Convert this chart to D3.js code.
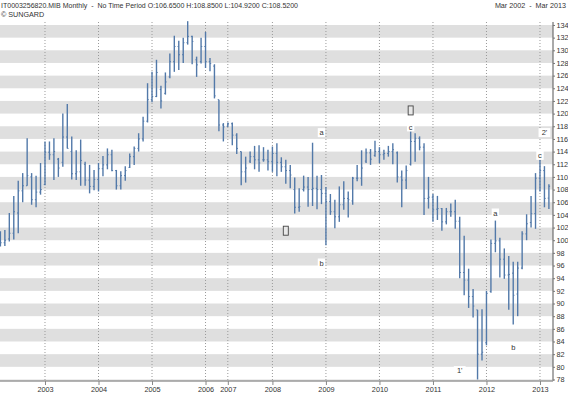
<!DOCTYPE html>
<html>
<head>
<meta charset="utf-8">
<script src="https://cdn.jsdelivr.net/npm/d3@7"></script>
<style>
body { margin: 0; background: #fff; }
svg { display: block; font-family: "Liberation Sans", Arial, sans-serif; }
</style>
</head>
<body>
<script>
// monthly bars, "no time period" so some 2006/2007 months are absent
const dates = [
  "2002-03","2002-04","2002-05","2002-06","2002-07","2002-08","2002-09","2002-10","2002-11","2002-12",
  "2003-01","2003-02","2003-03","2003-04","2003-05","2003-06","2003-07","2003-08","2003-09","2003-10","2003-11","2003-12",
  "2004-01","2004-02","2004-03","2004-04","2004-05","2004-06","2004-07","2004-08","2004-09","2004-10","2004-11","2004-12",
  "2005-01","2005-02","2005-03","2005-04","2005-05","2005-06","2005-07","2005-08","2005-09","2005-10","2005-11","2005-12",
  "2006-01","2006-02","2006-03","2006-04","2006-05",
  "2007-03","2007-04","2007-05","2007-06","2007-07","2007-08","2007-09","2007-10","2007-11","2007-12",
  "2008-01","2008-02","2008-03","2008-04","2008-05","2008-06","2008-07","2008-08","2008-09","2008-10","2008-11","2008-12",
  "2009-01","2009-02","2009-03","2009-04","2009-05","2009-06","2009-07","2009-08","2009-09","2009-10","2009-11","2009-12",
  "2010-01","2010-02","2010-03","2010-04","2010-05","2010-06","2010-07","2010-08","2010-09","2010-10","2010-11","2010-12",
  "2011-01","2011-02","2011-03","2011-04","2011-05","2011-06","2011-07","2011-08","2011-09","2011-10","2011-11","2011-12",
  "2012-01","2012-02","2012-03","2012-04","2012-05","2012-06","2012-07","2012-08","2012-09","2012-10","2012-11","2012-12",
  "2013-01","2013-02","2013-03"
];

const open = [
  100.8,99.6,100.2,101.1,104.3,107.8,108.6,110.0,106.4,107.6,
  108.8,113.9,113.5,112.8,112.3,116.3,114.0,110.5,110.8,112.0,109.5,108.5,
  109.6,111.3,111.9,113.5,111.0,108.6,110.2,111.5,113.2,114.5,116.0,118.8,
  122.2,122.7,123.8,123.2,125.8,128.2,130.6,129.3,131.2,132.2,128.5,128.2,
  130.6,128.2,127.5,122.2,118.2,
  118.0,118.4,116.6,114.0,110.8,112.5,113.2,112.7,112.7,112.7,
  112.4,113.7,112.3,111.6,111.0,108.0,105.2,108.0,108.4,108.0,108.2,108.0,
  107.4,106.1,104.5,103.7,105.6,106.6,106.2,109.8,109.8,112.5,113.8,113.4,
  114.0,113.5,113.7,114.0,113.8,110.0,109.5,112.0,115.6,116.1,114.7,106.6,
  106.8,104.9,105.0,102.9,104.5,104.5,103.0,94.9,93.7,91.1,89.0,82.0,
  83.8,91.9,99.5,99.9,97.0,94.5,94.8,91.5,95.6,101.0,102.8,104.2,
  109.8,111.0,106.65
];
const high = [
  101.4,101.6,104.3,107.0,109.4,110.6,116.1,110.6,110.2,112.2,
  115.6,115.6,116.1,113.0,120.0,121.5,116.4,114.2,115.9,112.4,111.9,111.1,
  112.2,113.3,114.5,114.3,111.1,110.9,111.7,113.7,114.8,116.9,119.5,124.8,
  126.6,128.5,124.4,126.5,129.5,132.3,131.5,132.0,134.6,132.3,129.0,132.0,
  132.9,128.8,127.8,122.2,118.5,
  118.6,118.6,116.9,114.0,113.2,114.0,114.9,115.0,114.7,114.3,
  114.8,115.3,113.1,112.7,111.9,109.9,108.2,110.2,110.0,115.4,110.2,110.3,
  108.4,107.3,106.4,108.5,109.3,107.7,110.0,111.9,114.2,114.5,114.4,115.7,
  114.7,114.3,114.9,115.3,114.0,111.0,111.8,117.2,116.9,116.4,115.3,110.0,
  107.3,107.0,105.1,105.1,105.8,106.4,103.7,100.7,95.5,92.3,89.0,89.1,
  92.0,100.1,103.1,100.4,98.7,97.5,96.6,96.6,101.4,104.1,107.0,110.6,
  112.7,111.7,108.85
];
const low = [
  99.0,99.1,99.8,100.1,101.1,106.0,108.6,105.6,105.2,107.2,
  108.7,112.7,109.5,110.0,111.6,114.5,109.6,109.5,108.6,108.6,107.4,107.9,
  107.7,110.1,111.2,110.9,108.0,108.0,109.4,111.4,111.9,114.0,115.6,118.6,
  121.8,122.6,120.8,123.0,125.6,126.6,126.9,128.0,130.9,127.8,125.8,127.9,
  127.2,126.7,122.4,117.2,115.6,
  117.9,115.0,113.6,108.7,109.1,112.2,111.2,110.8,112.4,111.0,
  110.8,110.1,110.8,108.9,108.2,104.2,104.5,107.7,105.3,105.4,104.9,105.7,
  99.2,104.0,101.9,102.9,104.8,103.6,105.6,109.3,108.6,112.2,111.9,113.2,
  112.2,112.7,113.2,112.0,109.1,105.2,108.1,111.8,112.4,114.2,104.0,105.0,
  102.9,103.2,101.5,102.5,103.7,101.8,94.0,91.3,89.3,87.8,78.0,81.0,
  83.4,91.7,98.1,94.1,93.9,89.0,86.7,88.0,95.4,100.0,102.0,101.8,
  107.7,105.2,104.92
];
const close = [
  99.6,100.0,101.1,104.5,107.8,108.6,110.2,106.4,107.6,108.0,
  113.9,113.5,114.0,111.4,116.3,114.5,110.5,110.8,112.6,109.5,108.5,109.6,
  111.3,111.9,113.5,111.0,108.6,110.2,111.0,113.2,114.5,116.0,118.8,122.2,
  122.7,126.5,122.0,125.0,128.2,130.6,129.3,131.2,132.2,131.4,127.7,130.6,
  128.2,127.9,122.8,118.2,117.9,
  118.4,116.6,114.5,110.8,111.4,113.2,112.7,112.2,112.7,112.4,
  113.7,112.3,111.6,111.0,110.3,105.2,105.3,108.4,108.0,108.2,108.0,107.4,
  106.1,104.5,103.7,105.6,106.6,106.4,109.8,109.8,111.4,113.8,112.8,114.0,
  113.5,113.7,114.0,114.3,110.0,109.5,111.0,115.6,116.1,114.7,106.6,106.8,
  104.8,105.0,102.9,104.5,104.5,103.0,94.9,93.7,91.1,89.6,82.0,82.3,
  91.6,99.5,99.9,97.0,94.5,94.6,91.3,95.6,101.0,102.6,104.2,109.8,
  111.0,106.6,108.52
];

const yTicks = [78,80,82,84,86,88,90,92,94,96,98,100,102,104,106,108,110,112,114,116,118,120,122,124,126,128,130,132,134];

// wave labels drawn on the chart
const notes = [
  { t: "a", d: "2008-12", v: 117.0 },
  { t: "b", d: "2008-12", v: 96.4 },
  { t: "c", d: "2010-08", v: 117.9 },
  { t: "a", d: "2012-03", v: 104.3 },
  { t: "b", d: "2012-07", v: 83.0 },
  { t: "1'", d: "2011-07", v: 79.4 },
  { t: "2'", d: "2013-02", v: 117.0 },
  { t: "c", d: "2013-01", v: 113.4 }
];
const markers = [
  { d: "2010-08", v: 120.5 },
  { d: "2008-04", v: 101.5 }
];

const width = 568, height = 396;
const plotTop = 22, plotBottom = 381, plotRight = 553;

const svg = d3.select("body").append("svg")
  .attr("width", width)
  .attr("height", height);

const x = d3.scalePoint().domain(dates).range([0.4, 548.9]);
const y = d3.scaleLinear().domain([77.76, 134.47]).range([plotBottom, plotTop]);

const bars = dates.map((d, i) => ({
  date: d, o: open[i], h: high[i], l: low[i], c: close[i]
}));

// first bar of each year gets a tick (except the first year)
const yearStarts = dates.filter((d, i) => i > 0 && d.slice(0, 4) !== dates[i - 1].slice(0, 4));

// grey bands every other 2-point step
const bands = yTicks.filter(v => v % 4 === 0);
svg.append("g")
  .selectAll("rect")
  .data(bands)
  .enter()
  .append("rect")
  .attr("x", 0)
  .attr("width", plotRight)
  .attr("y", d => y(Math.min(d + 2, y.domain()[1])))
  .attr("height", d => y(d) - y(Math.min(d + 2, y.domain()[1])))
  .attr("fill", "#dfdfdf");
// sliver of the 76-78 band under the bottom label
svg.append("rect")
  .attr("x", 0).attr("width", plotRight)
  .attr("y", y(78)).attr("height", plotBottom - y(78))
  .attr("fill", "#dfdfdf");

// dotted year lines
svg.append("g")
  .selectAll("line")
  .data(yearStarts)
  .enter()
  .append("line")
  .attr("x1", d => x(d)).attr("x2", d => x(d))
  .attr("y1", plotTop).attr("y2", plotBottom)
  .attr("stroke", "#9a9a9a")
  .attr("stroke-width", 1)
  .attr("stroke-dasharray", "1,2");

// OHLC bars
const barColor = "#5279a9";
const bar = svg.append("g").selectAll("g")
  .data(bars)
  .enter()
  .append("g")
  .attr("stroke", barColor)
  .attr("stroke-width", 1.4);

bar.append("line")
  .attr("x1", d => x(d.date)).attr("x2", d => x(d.date))
  .attr("y1", d => y(d.h)).attr("y2", d => y(d.l));
bar.append("line")
  .attr("stroke-width", 1)
  .attr("x1", d => x(d.date) - 1.2).attr("x2", d => x(d.date))
  .attr("y1", d => y(d.o)).attr("y2", d => y(d.o));
bar.append("line")
  .attr("stroke-width", 1)
  .attr("x1", d => x(d.date)).attr("x2", d => x(d.date) + 1.2)
  .attr("y1", d => y(d.c)).attr("y2", d => y(d.c));

// annotations
const note = svg.append("g").selectAll("g")
  .data(notes)
  .enter()
  .append("g")
  .attr("transform", d => `translate(${x(d.d)},${y(d.v)})`);
note.append("rect")
  .attr("x", d => -(d.t.length * 2.2 + 1.5))
  .attr("y", -4.5)
  .attr("width", d => d.t.length * 4.4 + 3)
  .attr("height", 9)
  .attr("fill", "#fff");
note.append("text")
  .attr("text-anchor", "middle")
  .attr("dy", "0.35em")
  .attr("font-size", 7.5)
  .attr("fill", "#333")
  .text(d => d.t);

svg.append("g").selectAll("rect")
  .data(markers)
  .enter()
  .append("rect")
  .attr("x", d => x(d.d) - 2.5)
  .attr("y", d => y(d.v) - 4.5)
  .attr("width", 5)
  .attr("height", 9)
  .attr("fill", "#e8e8e8")
  .attr("stroke", "#444")
  .attr("stroke-width", 0.9);

// right price axis
const yAxis = svg.append("g")
  .attr("transform", `translate(${plotRight},0)`)
  .call(d3.axisRight(y).tickValues(yTicks).tickSize(2).tickPadding(1.5).tickFormat(d3.format("d")));
yAxis.select(".domain").attr("stroke", "#555").attr("d", `M0,${plotTop}V${plotBottom}`);
yAxis.selectAll(".tick line").attr("stroke", "#777");
yAxis.selectAll("text").attr("font-size", 7.3).attr("fill", "#333")
  .attr("font-family", "'Liberation Sans', Arial, sans-serif");

// bottom time axis
const xAxis = svg.append("g")
  .attr("transform", `translate(0,${plotBottom})`)
  .call(d3.axisBottom(x).tickValues(yearStarts).tickSize(4).tickPadding(2).tickFormat(d => d.slice(0, 4)));
xAxis.select(".domain").attr("stroke", "#9a9a9a").attr("stroke-width", 1.5).attr("d", `M0,0H${plotRight}`);
xAxis.selectAll(".tick line").attr("stroke", "#888");
xAxis.selectAll("text").attr("font-size", 7.3).attr("fill", "#333")
  .attr("font-family", "'Liberation Sans', Arial, sans-serif");

// header
const n = dates.length - 1;
svg.append("text")
  .attr("x", 1).attr("y", 8)
  .attr("font-size", 7.2).attr("fill", "#333")
  .attr("xml:space", "preserve")
  .attr("textLength", 297)
  .attr("lengthAdjust", "spacingAndGlyphs")
  .text(`IT0003256820.MIB Monthly  -  No Time Period O:${open[n].toFixed(4)} H:${high[n].toFixed(4)} L:${low[n].toFixed(4)} C:${close[n].toFixed(4)}`);
svg.append("text")
  .attr("x", 1).attr("y", 17)
  .attr("font-size", 7.2).attr("fill", "#333")
  .text("© SUNGARD");
svg.append("text")
  .attr("x", 566).attr("y", 8)
  .attr("text-anchor", "end")
  .attr("font-size", 7.2).attr("fill", "#333")
  .attr("xml:space", "preserve")
  .text("Mar 2002  -  Mar 2013");
</script>
</body>
</html>
